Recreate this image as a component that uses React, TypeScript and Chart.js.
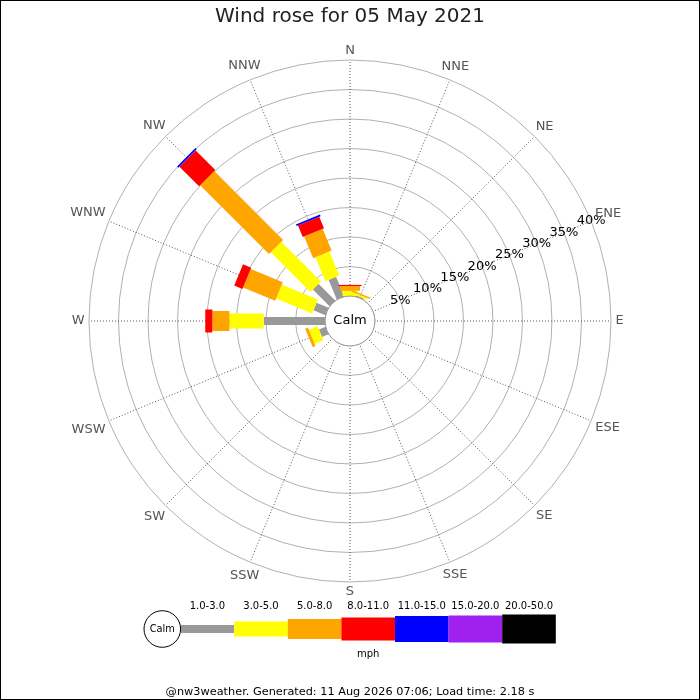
import React, { useEffect, useRef } from "react";
import { Chart, registerables } from "chart.js";

Chart.register(...registerables);

const FONT = "'DejaVu Sans', sans-serif";

const titleText = "Wind rose for 05 May 2021";
const footerText = "@nw3weather. Generated: 11 Aug 2026 07:06; Load time: 2.18 s";
const calmLabel = "Calm";
const unitLabel = "mph";

const directions = ["N", "NNE", "NE", "ENE", "E", "ESE", "SE", "SSE", "S", "SSW", "SW", "WSW", "W", "WNW", "NW", "NNW"];
const speedBands = ["1.0-3.0", "3.0-5.0", "5.0-8.0", "8.0-11.0", "11.0-15.0", "15.0-20.0", "20.0-50.0"];
const ringTicks = [5, 10, 15, 20, 25, 30, 35, 40];

// percentage of time per direction, per speed band (N .. NNW)
const pct1to3 = [0, 0.2, 0, 0, 0, 0, 0, 0, 0, 0, 0, 1.2, 10.4, 2.2, 4.0, 3.6];
const pct3to5 = [0.9, 0.3, 0, 0, 0, 0, 0, 0, 0, 0, 0, 1.6, 5.8, 6.6, 9.5, 4.4];
const pct5to8 = [0.8, 0.25, 0, 0, 0, 0, 0, 0, 0, 0, 0, 0.5, 2.9, 5.9, 16.5, 4.0];
const pct8to11 = [0.2, 0, 0, 0, 0, 0, 0, 0, 0, 0, 0, 0, 1.2, 1.5, 4.7, 2.1];
const pct11to15 = [0, 0, 0, 0, 0, 0, 0, 0, 0, 0, 0, 0, 0, 0, 0.3, 0.3];
const pct15to20 = [0, 0, 0, 0, 0, 0, 0, 0, 0, 0, 0, 0, 0, 0, 0, 0];
const pct20to50 = [0, 0, 0, 0, 0, 0, 0, 0, 0, 0, 0, 0, 0, 0, 0, 0];

const bandColors = ["#999999", "#ffff00", "#ffa500", "#ff0000", "#0000ff", "#a020f0", "#000000"];
const bandWidths = [8, 15, 20, 23, 26, 27, 29];

const series = [pct1to3, pct3to5, pct5to8, pct8to11, pct11to15, pct15to20, pct20to50];

const roseMin = -4.22; // puts 0 % on the edge of the calm circle
const roseMax = 40;

const windRosePlugin = {
  id: "windRose",
  afterDatasetsDraw(chart: any) {
    const s = chart.scales.r;
    const ctx = chart.ctx;
    const cum = new Array(directions.length).fill(0);
    ctx.save();
    chart.data.datasets.forEach((ds: any, k: number) => {
      ds.data.forEach((v: number, i: number) => {
        const start = cum[i];
        const end = start + v;
        cum[i] = end;
        if (!v) return;
        const r0 = s.getDistanceFromCenterForValue(start);
        const r1 = s.getDistanceFromCenterForValue(end);
        const a = s.getIndexAngle(i) - Math.PI / 2;
        const w = bandWidths[k];
        ctx.save();
        ctx.translate(s.xCenter, s.yCenter);
        ctx.rotate(a);
        ctx.fillStyle = bandColors[k];
        ctx.fillRect(r0, -w / 2, r1 - r0, w);
        ctx.restore();
      });
    });

    // calm circle
    const rc = s.getDistanceFromCenterForValue(0);
    ctx.beginPath();
    ctx.arc(s.xCenter, s.yCenter, rc, 0, Math.PI * 2);
    ctx.fillStyle = "#ffffff";
    ctx.fill();
    ctx.lineWidth = 1;
    ctx.strokeStyle = "#999999";
    ctx.stroke();
    ctx.fillStyle = "#000000";
    ctx.font = `13px ${FONT}`;
    ctx.textAlign = "center";
    ctx.textBaseline = "middle";
    ctx.fillText(calmLabel, s.xCenter, s.yCenter);

    // ring labels along the ENE spoke
    s.ticks.forEach((t: any) => {
      if (t.value <= 0) return;
      const p = s.getPointPositionForValue(3, t.value);
      ctx.fillText(t.label, p.x, p.y);
    });

    // compass labels
    ctx.fillStyle = "#555555";
    directions.forEach((lbl, i) => {
      const w = ctx.measureText(lbl).width;
      const h = 9.5;
      const a = s.getIndexAngle(i);
      const ext = (Math.abs(Math.sin(a)) * w + Math.abs(Math.cos(a)) * h) / 2;
      const p = s.getPointPosition(i, s.drawingArea + 4.5 + ext);
      ctx.fillText(lbl, p.x, p.y);
    });
    ctx.restore();
  },
  afterDraw(chart: any) {
    const ctx = chart.ctx;
    ctx.save();
    // speed legend
    const cx = 162.3;
    const cy = 629;
    const cr = 18.3;
    const x0 = cx + cr;
    const seg = 53.6;
    bandColors.forEach((c, k) => {
      ctx.fillStyle = c;
      ctx.fillRect(x0 + k * seg, cy - bandWidths[k] / 2, seg, bandWidths[k]);
    });
    ctx.beginPath();
    ctx.arc(cx, cy, cr, 0, Math.PI * 2);
    ctx.fillStyle = "#ffffff";
    ctx.fill();
    ctx.lineWidth = 1;
    ctx.strokeStyle = "#000000";
    ctx.stroke();
    ctx.fillStyle = "#000000";
    ctx.textAlign = "center";
    ctx.textBaseline = "middle";
    ctx.font = `9.8px ${FONT}`;
    ctx.fillText(calmLabel, cx, cy);
    ctx.font = `10px ${FONT}`;
    speedBands.forEach((lbl, k) => {
      ctx.fillText(lbl, x0 + k * seg + seg / 2, 606.7);
    });
    ctx.fillText(unitLabel, x0 + (seg * speedBands.length) / 2, 654);
    // frame
    ctx.strokeStyle = "#000000";
    ctx.lineWidth = 1;
    ctx.strokeRect(0.5, 0.5, chart.width - 1, chart.height - 1);
    ctx.restore();
  },
};

export default function App() {
  const ref = useRef<HTMLCanvasElement>(null);
  useEffect(() => {
    if (!ref.current) return;
    Chart.defaults.font.family = FONT;
    const chart = new Chart(ref.current, {
      type: "radar",
      data: {
        labels: directions,
        datasets: series.map((data, k) => ({
          label: speedBands[k],
          data,
          borderWidth: 0,
          borderColor: "rgba(0,0,0,0)",
          backgroundColor: "rgba(0,0,0,0)",
          pointRadius: 0,
          pointHoverRadius: 0,
          pointHitRadius: 0,
          fill: false,
        })),
      },
      options: {
        animation: false,
        responsive: false,
        events: [],
        layout: { padding: { left: 88, right: 88, top: 0, bottom: 0 } },
        plugins: {
          legend: { display: false },
          tooltip: { enabled: false },
          title: {
            display: true,
            text: titleText,
            color: "#222222",
            font: { family: FONT, size: 20, weight: "normal" },
            padding: { top: 5, bottom: 31 },
          },
          subtitle: {
            display: true,
            position: "bottom",
            text: footerText,
            color: "#000000",
            font: { family: FONT, size: 11.3, weight: "normal" },
            padding: { top: 101.6, bottom: 0.9 },
          },
        },
        scales: {
          r: {
            min: roseMin,
            max: roseMax,
            startAngle: 0,
            afterBuildTicks: (scale: any) => {
              scale.ticks = [0, ...ringTicks].map((v) => ({ value: v }));
            },
            ticks: {
              display: false,
              callback: (v: any) => `${v}%`,
            },
            pointLabels: { display: false },
            grid: { circular: true, color: "#b0b0b0", lineWidth: 1 },
            angleLines: { display: true, color: "#555555", lineWidth: 1, borderDash: [1, 2] },
          },
        },
      },
      plugins: [windRosePlugin],
    } as any);
    return () => chart.destroy();
  }, []);
  return (
    <div style={{ position: "fixed", left: 0, top: 0, width: 700, height: 700, background: "#ffffff" }}>
      <canvas ref={ref} width={700} height={700} style={{ display: "block", width: 700, height: 700 }} />
    </div>
  );
}
